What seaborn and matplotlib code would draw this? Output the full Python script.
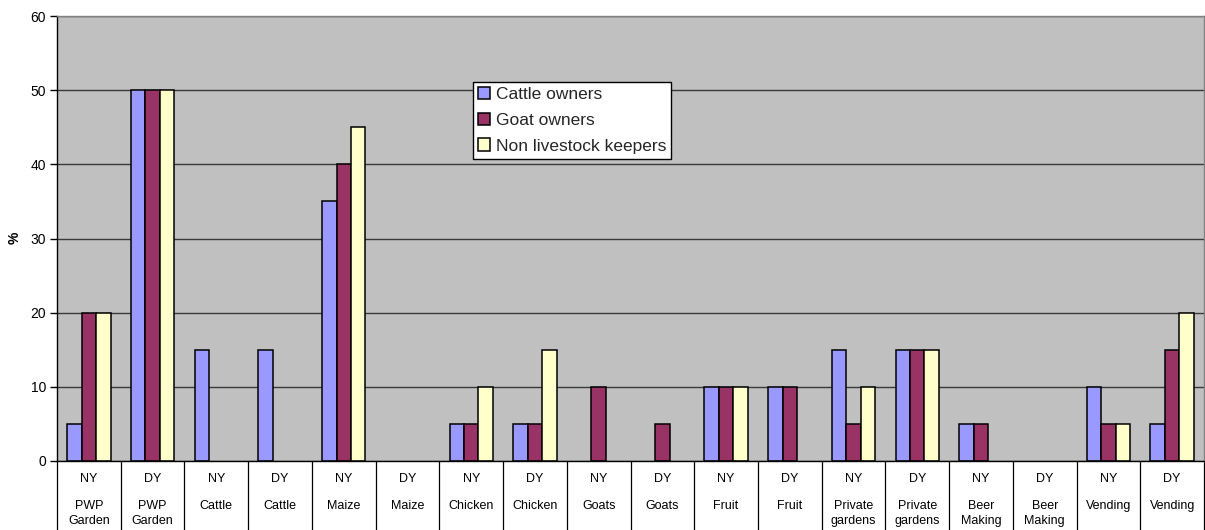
import matplotlib
matplotlib.use("Agg")
import matplotlib.pyplot as plt
import matplotlib.transforms as mtransforms
import seaborn as sns
import pandas as pd

# Activities, each surveyed for the normal year (NY) and drought year (DY)
activities = ["PWP\nGarden", "PWP\nGarden", "Cattle", "Cattle", "Maize", "Maize",
              "Chicken", "Chicken", "Goats", "Goats", "Fruit", "Fruit",
              "Private\ngardens", "Private\ngardens", "Beer\nMaking", "Beer\nMaking",
              "Vending", "Vending"]
years = ["NY", "DY"] * 9

groups = ["Cattle owners", "Goat owners", "Non livestock keepers"]
cattle_owners = [5, 50, 15, 15, 35, 0, 5, 5, 0, 0, 10, 10, 15, 15, 5, 0, 10, 5]
goat_owners = [20, 50, 0, 0, 40, 0, 5, 5, 10, 5, 10, 10, 5, 15, 5, 0, 5, 15]
non_livestock = [20, 50, 0, 0, 45, 0, 10, 15, 0, 0, 10, 0, 10, 15, 0, 0, 5, 20]

colors = ["#9999FF", "#993366", "#FFFFCC"]

keys = [f"{i:02d}" for i in range(len(activities))]
rows = []
for g, vals in zip(groups, [cattle_owners, goat_owners, non_livestock]):
    for k, v in zip(keys, vals):
        rows.append({"key": k, "group": g, "pct": v})
df = pd.DataFrame(rows)

sns.set_theme(style="white")
plt.rcParams["font.family"] = ["Liberation Sans", "DejaVu Sans"]

fig = plt.figure(figsize=(12.05, 5.30), dpi=100)
ax = fig.add_axes([57 / 1205, 1 - 461 / 530, (1204 - 57) / 1205, (461 - 16) / 530])
ax.set_facecolor("#C0C0C0")

sns.barplot(data=df, x="key", y="pct", hue="group", order=keys, hue_order=groups,
            palette=colors, saturation=1, width=0.68, gap=0, edgecolor="black",
            linewidth=1.1, ax=ax, legend=True)

# empty bars stay hidden instead of showing as a flat outline
for p in ax.patches:
    if p.get_width() > 0 and p.get_height() == 0:
        p.set_visible(False)

ax.set_xlim(-0.5, len(keys) - 0.5)
ax.set_ylim(0, 60)
ax.set_yticks(range(0, 61, 10))
ax.yaxis.grid(True, color="#3a3a3a", linewidth=1.0)
ax.set_axisbelow(True)
ax.tick_params(axis="y", left=True, length=5, width=1, color="black",
               labelsize=10, pad=3, labelcolor="black")
ax.tick_params(axis="x", bottom=False, labelbottom=False)
ax.set_xlabel("")
ax.set_ylabel("")
fig.text(15 / 1205, 1 - 238 / 530, "%", rotation=90, ha="center", va="center",
         fontsize=10, fontweight="bold", color="black")

for side in ["top", "right"]:
    ax.spines[side].set_color("#808080")
    ax.spines[side].set_linewidth(1)
ax.spines["left"].set_color("black")
ax.spines["bottom"].set_color("black")
ax.spines["left"].set_linewidth(1)
ax.spines["bottom"].set_linewidth(1)

# Two-row category axis with separators running down below the plot
trans = mtransforms.blended_transform_factory(ax.transData, ax.transAxes)
axes_h_px = 461 - 16
def below(px):
    return -px / axes_h_px

for i in range(len(keys) + 1):
    ax.plot([i - 0.5, i - 0.5], [0, below(70)], transform=trans, color="black",
            linewidth=0.9, clip_on=False)
for i, (yr, act) in enumerate(zip(years, activities)):
    ax.text(i, below(18), yr, transform=trans, ha="center", va="center",
            fontsize=9, color="black")
    ax.text(i, below(39), act, transform=trans, ha="center", va="top",
            fontsize=9, color="black", linespacing=1.3)

leg = ax.legend(loc="upper left", bbox_to_anchor=(473 / 1205, 1 - 82 / 530),
                bbox_transform=fig.transFigure, frameon=True, fancybox=False,
                fontsize=12.5, handlelength=0.7, handleheight=0.7, handletextpad=0.3,
                labelspacing=0.6, borderpad=0.3, borderaxespad=0)
leg.get_frame().set_edgecolor("black")
leg.get_frame().set_linewidth(1)
leg.get_frame().set_facecolor("white")
leg.get_frame().set_alpha(1)
for h in leg.legend_handles:
    h.set_edgecolor("black")
    h.set_linewidth(1.1)

fig.savefig("out.png", dpi=100)
